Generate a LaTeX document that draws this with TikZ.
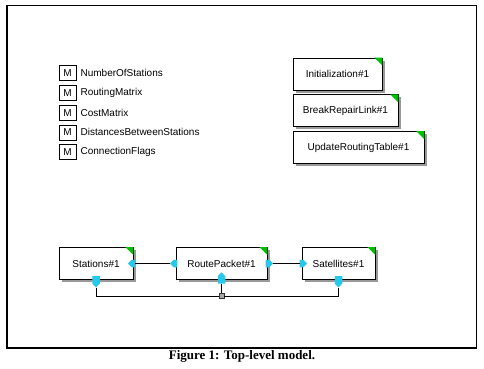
\documentclass[tikz,border=0pt]{standalone}
\usepackage{fontspec}
\setmainfont{Liberation Sans}
\newfontfamily\captionfont{Liberation Serif}
\usetikzlibrary{positioning, shapes.symbols, shadows, calc}

\definecolor{portcyan}{RGB}{40,200,235}
\definecolor{cornergreen}{RGB}{0,190,0}

\begin{document}
\begin{tikzpicture}[
        x=1pt, y=-1pt,
        font=\fontsize{10}{12}\selectfont,
        block/.style={rectangle, draw=black, line width=0.8pt, fill=white, minimum height=32pt, inner sep=0pt, drop shadow={shadow xshift=2.5pt, shadow yshift=-2.5pt, fill=black!40, opacity=1}},
        mbox/.style={rectangle, draw=black, line width=0.8pt, minimum width=17pt, minimum height=15pt, inner sep=0pt},
        mlabel/.style={anchor=west, inner sep=0pt},
        port/.style={signal, fill=portcyan, draw=none, inner sep=0pt, minimum width=7.5pt, minimum height=7.5pt},
        junction/.style={rectangle, draw=black!80, fill=gray!70, minimum size=5pt, inner sep=0pt},
        wire/.style={black, line width=0.7pt},
    ]
        \useasboundingbox (0,0) rectangle (484,368);

        % Outer frame
        \draw[line width=0.8pt] (7,5) rectangle (476,348);
        \draw[line width=2pt] (7,5) -- (7,348) -- (476,348);

        % Model variables (left)
        \node[mbox] (m1) at (67.5,73) {M};
        \node[mbox, below=4pt of m1] (m2) {M};
        \node[mbox, below=4pt of m2] (m3) {M};
        \node[mbox, below=4pt of m3] (m4) {M};
        \node[mbox, below=4pt of m4] (m5) {M};
        \node[mlabel, right=4pt of m1] (v1) {NumberOfStations};
        \node[mlabel, right=4pt of m2] (v2) {RoutingMatrix};
        \node[mlabel, right=4pt of m3] (v3) {CostMatrix};
        \node[mlabel, right=4pt of m4] (v4) {DistancesBetweenStations};
        \node[mlabel, right=4pt of m5] (v5) {ConnectionFlags};

        % Unconnected blocks (right)
        \node[block, minimum width=89pt] (init) at (337.5,74) {Initialization\#1};
        \node[block, minimum width=105pt, below=4pt of init.south west, anchor=north west] (brk) {BreakRepairLink\#1};
        \node[block, minimum width=131pt, below=4pt of brk.south west, anchor=north west] (upd) {UpdateRoutingTable\#1};

        % Connected blocks (bottom)
        \node[block, minimum width=74pt] (sta) at (96,263.5) {Stations\#1};
        \node[block, minimum width=91pt] (rte) at (221.5,263.5) {RoutePacket\#1};
        \node[block, minimum width=73pt] (sat) at (338.5,263.5) {Satellites\#1};

        % Green corner marks
        \foreach \b in {init,brk,upd,sta,rte,sat}
            \fill[cornergreen] (\b.north east) -- ++(-8,0) -- ++(8,8) -- cycle;

        % Ports
        \node[port, signal to=west] (p1) at (sta.east) {};
        \node[port, signal to=west] (p2) at (rte.west) {};
        \node[port, signal to=east] (p3) at (rte.east) {};
        \node[port, signal to=east] (p4) at (sat.west) {};
        \node[port, signal to=south] (p5) at (sta.south) {};
        \node[port, signal to=north] (p6) at (rte.south) {};
        \node[port, signal to=south] (p7) at (sat.south) {};
        \node[junction] (jn) at ($(rte.south)+(0,16)$) {};

        % Wires
        \draw[wire] (p1) -- (p2);
        \draw[wire] (p3) -- (p4);
        \draw[wire] (p5.south) |- (jn.west);
        \draw[wire] (jn.east) -| (p7.south);
        \draw[wire] (p6.south) -- (jn.north);

        % Caption
        \node[font=\captionfont\bfseries\fontsize{13}{15}\selectfont] (caption) at (242,356) {Figure 1: Top-level model.};
    \end{tikzpicture}
\end{document}
